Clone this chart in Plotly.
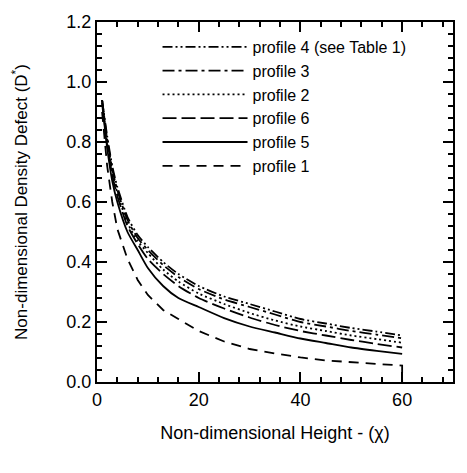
import plotly.graph_objects as go

# Non-dimensional height (chi) sample positions
chi = [1, 2, 3, 4, 6, 8, 10, 13, 16, 20, 25, 30, 35, 40, 45, 50, 55, 60]

# Non-dimensional density defect D* for each profile
profile_4 = [0.94, 0.82, 0.72, 0.65, 0.55, 0.49, 0.45, 0.40, 0.36, 0.32, 0.285, 0.26, 0.235, 0.21, 0.195, 0.18, 0.168, 0.155]
profile_3 = [0.94, 0.81, 0.71, 0.64, 0.54, 0.48, 0.44, 0.39, 0.35, 0.31, 0.275, 0.25, 0.225, 0.20, 0.185, 0.17, 0.158, 0.146]
profile_2 = [0.94, 0.80, 0.70, 0.63, 0.53, 0.47, 0.43, 0.375, 0.335, 0.295, 0.26, 0.23, 0.205, 0.185, 0.17, 0.155, 0.143, 0.131]
profile_6 = [0.94, 0.79, 0.69, 0.62, 0.52, 0.46, 0.41, 0.36, 0.32, 0.28, 0.245, 0.215, 0.19, 0.17, 0.155, 0.14, 0.127, 0.115]
profile_5 = [0.93, 0.78, 0.67, 0.60, 0.50, 0.44, 0.38, 0.32, 0.28, 0.25, 0.213, 0.185, 0.165, 0.145, 0.13, 0.115, 0.104, 0.094]
profile_1 = [0.90, 0.72, 0.60, 0.51, 0.41, 0.34, 0.29, 0.24, 0.21, 0.17, 0.135, 0.11, 0.095, 0.082, 0.072, 0.065, 0.06, 0.055]
# profile 1 closes with a drop to the axis at the last station
profile_1_chi = chi + [60]
profile_1_vals = profile_1 + [0.0]

series = [
    ("profile 4 (see Table 1)", chi, profile_4, "10px,3px,2px,3px,2px,3px", "spline"),
    ("profile 3", chi, profile_3, "12px,4px,3px,4px", "spline"),
    ("profile 2", chi, profile_2, "2px,3px", "spline"),
    ("profile 6", chi, profile_6, "14px,5px", "spline"),
    ("profile 5", chi, profile_5, "solid", "spline"),
    ("profile 1", profile_1_chi, profile_1_vals, "10px,7px", "linear"),
]

FONT = "Liberation Sans, Arial, Helvetica, sans-serif"

fig = go.Figure()
for name, xs, ys, dash, shape in series:
    line = dict(color="black", width=1.8, dash=dash, shape=shape)
    if shape == "spline":
        line["smoothing"] = 0.6
    fig.add_trace(go.Scatter(x=xs, y=ys, mode="lines", name=name, line=line))

axis_common = dict(
    showline=True, linecolor="black", linewidth=2, mirror="allticks",
    ticks="inside", tickcolor="black", tickwidth=1.5, ticklen=10,
    showgrid=False, zeroline=False,
    tickfont=dict(family=FONT, size=18, color="black"),
)

fig.update_xaxes(
    range=[0, 70], dtick=20, tick0=0,
    minor=dict(dtick=4, ticks="inside", ticklen=5, tickcolor="black", tickwidth=1.5),
    title=dict(text="Non-dimensional Height - (χ)", font=dict(family=FONT, size=18, color="black"), standoff=18),
    **axis_common,
)
fig.update_yaxes(
    range=[0, 1.2], dtick=0.2, tick0=0, tickformat=".1f",
    minor=dict(dtick=0.04, ticks="inside", ticklen=5, tickcolor="black", tickwidth=1.5),
    title=dict(text="Non-dimensional Density Defect (D<sup>*</sup>)", font=dict(family=FONT, size=17, color="black"), standoff=34),
    **axis_common,
)

fig.update_layout(
    width=467, height=473,
    margin=dict(l=97, r=14, t=12, b=91),
    paper_bgcolor="white", plot_bgcolor="white",
    showlegend=True,
    legend=dict(
        x=0.17, y=0.978, xanchor="left", yanchor="top",
        bgcolor="rgba(0,0,0,0)", borderwidth=0,
        font=dict(family=FONT, size=16, color="black"),
        itemwidth=85, tracegroupgap=0,
    ),
)

fig.write_html("out.html")
